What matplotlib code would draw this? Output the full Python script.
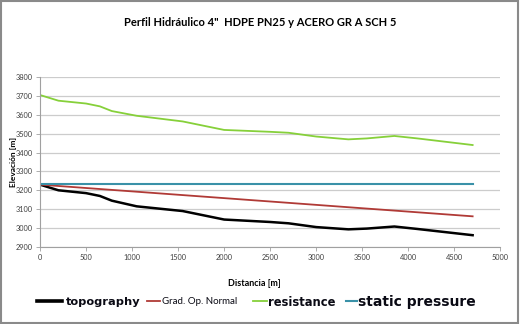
import numpy as np
import matplotlib
matplotlib.use('agg')
from matplotlib import pyplot as plt
from matplotlib.patches import Rectangle

plt.rcParams['font.family'] = ['Lato', 'DejaVu Sans']

# distance along the line [m]
distance = [0, 200, 500, 650, 780, 1050, 1550, 2000, 2500, 2700, 3000, 3350, 3550, 3850, 4100, 4700]
topography = [3230, 3200, 3185, 3170, 3145, 3115, 3090, 3045, 3032, 3025, 3005, 2993, 2997, 3008, 2995, 2962]
resistance = [3705, 3675, 3660, 3645, 3620, 3595, 3565, 3520, 3510, 3505, 3485, 3470, 3475, 3488, 3475, 3440]
grad_x = [0, 4700]
grad_op = [3230, 3062]
static_x = [0, 4700]
static_p = [3232, 3232]

fig = plt.figure(figsize=(5.2, 3.24), dpi=100)
ax = fig.add_axes([0.077, 0.238, 0.885, 0.524])

l_topo, = ax.plot(distance, topography, color='black', lw=1.8)
l_grad, = ax.plot(grad_x, grad_op, color='#b03a36', lw=1.3)
l_res, = ax.plot(distance, resistance, color='#86d03a', lw=1.3)
l_stat, = ax.plot(static_x, static_p, color='#3a91a8', lw=1.5)

ax.set_xlim(0, 5000)
ax.set_ylim(2900, 3800)
ax.set_xticks(np.arange(0, 5001, 500))
ax.set_yticks(np.arange(2900, 3801, 100))
ax.yaxis.grid(True, color='#cccccc', lw=0.9)
ax.set_axisbelow(True)
for s in ['top', 'right']:
    ax.spines[s].set_visible(False)
for s in ['left', 'bottom']:
    ax.spines[s].set_color('#a0a0a0')
    ax.spines[s].set_linewidth(0.8)
ax.tick_params(labelsize=5.3, colors='#404040', length=3, width=0.6, color='#a0a0a0', pad=2)

ax.set_ylabel('Elevación [m]', fontsize=6, fontweight='bold')
ax.yaxis.set_label_coords(-0.05, 0.5)
ax.set_xlabel('Distancia [m]', fontsize=6.5, fontweight='bold')
ax.xaxis.set_label_coords(0.465, -0.19)

fig.text(0.5, 0.93, 'Perfil Hidráulico 4"  HDPE PN25 y ACERO GR A SCH 5',
         ha='center', va='center', fontsize=8, fontweight='bold')

# legend entries placed one by one: (line, label, x start px, font, size, weight, handle px, gap px)
entries = [
    (l_topo, 'topography', 37, 'DejaVu Sans', 8.2, 'bold', 25, 4),
    (l_grad, 'Grad. Op. Normal', 147, 'Lato', 7, 'normal', 13, 2),
    (l_res, 'resistance', 253, 'DejaVu Sans', 8.3, 'bold', 14, 1),
    (l_stat, 'static pressure', 346, 'DejaVu Sans', 10, 'bold', 11, 1),
]
for line, lab, x0, fam, sz, wt, hl, gap in entries:
    em = sz * 100 / 72
    leg = fig.legend([line], [lab], loc='center left', bbox_to_anchor=(x0 / 520, 1 - 302 / 324),
                     frameon=False, borderpad=0, borderaxespad=0,
                     handlelength=hl / em, handletextpad=gap / em,
                     prop={'family': fam, 'size': sz, 'weight': wt})
    leg.get_texts()[0].set_color('#0a0a14')
    if line is l_topo:
        leg.get_lines()[0].set_linewidth(2.6)

fig.patches.append(Rectangle((0.002, 0.003), 0.995, 0.993, transform=fig.transFigure,
                             fill=False, edgecolor='#8a8a8a', lw=1.5))

fig.savefig('out.png', dpi=100)
